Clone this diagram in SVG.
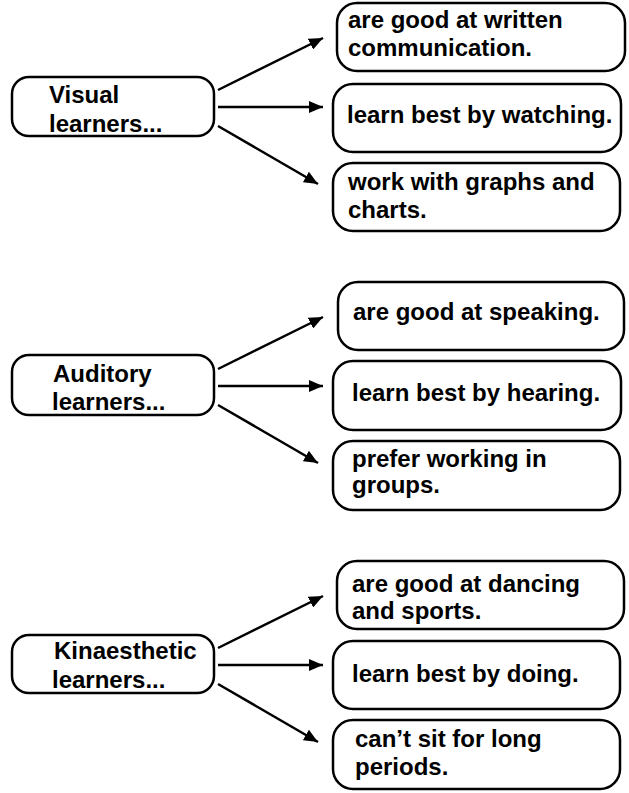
<svg xmlns="http://www.w3.org/2000/svg" width="629" height="793" viewBox="0 0 629 793">
<style>
.box{fill:#fff;stroke:#000;stroke-width:2.5}
.t{font-family:"Liberation Sans",Arial,sans-serif;font-weight:bold;font-size:24px;fill:#000}
.c{stroke:#000;stroke-width:2.5;fill:none;marker-end:url(#ah)}
</style>
<defs>
<marker id="ah" markerUnits="userSpaceOnUse" markerWidth="16" markerHeight="12" refX="14" refY="6" orient="auto">
<path d="M0,0 L14,6 L0,12 Z" fill="#000"/>
</marker>
</defs>
<rect width="629" height="793" fill="#fff"/>
<g id="connectors">
<line class="c" x1="218" y1="90" x2="323" y2="38"/>
<line class="c" x1="218" y1="107" x2="323" y2="107"/>
<line class="c" x1="218" y1="126" x2="318" y2="184"/>
<line class="c" x1="218" y1="369" x2="323" y2="317"/>
<line class="c" x1="218" y1="386" x2="323" y2="386"/>
<line class="c" x1="218" y1="405" x2="318" y2="463"/>
<line class="c" x1="218" y1="648" x2="323" y2="596"/>
<line class="c" x1="218" y1="665" x2="323" y2="665"/>
<line class="c" x1="218" y1="684" x2="318" y2="742"/>
</g>
<g id="visual">
<rect class="box" x="12" y="77" width="202" height="59" rx="17"/>
<text class="t" x="49" y="103">Visual</text>
<text class="t" x="49" y="132">learners...</text>
</g>
<g id="v1">
<rect class="box" x="337" y="3" width="288" height="68" rx="20"/>
<text class="t" x="348" y="28">are good at written</text>
<text class="t" x="348" y="56">communication.</text>
</g>
<g id="v2">
<rect class="box" x="333" y="84" width="288" height="68" rx="20"/>
<text class="t" x="347" y="123">learn best by watching.</text>
</g>
<g id="v3">
<rect class="box" x="333" y="163" width="287" height="68" rx="20"/>
<text class="t" x="348" y="190">work with graphs and</text>
<text class="t" x="348" y="218">charts.</text>
</g>
<g id="auditory">
<rect class="box" x="12" y="355" width="202" height="60" rx="17"/>
<text class="t" x="53" y="382">Auditory</text>
<text class="t" x="52" y="410">learners...</text>
</g>
<g id="a1">
<rect class="box" x="338" y="282" width="286" height="68" rx="20"/>
<text class="t" x="353" y="320">are good at speaking.</text>
</g>
<g id="a2">
<rect class="box" x="333" y="361" width="288" height="69" rx="20"/>
<text class="t" x="352" y="401">learn best by hearing.</text>
</g>
<g id="a3">
<rect class="box" x="333" y="441" width="287" height="69" rx="20"/>
<text class="t" x="352" y="467">prefer working in</text>
<text class="t" x="352" y="493">groups.</text>
</g>
<g id="kinaesthetic">
<rect class="box" x="12" y="635" width="202" height="58" rx="17"/>
<text class="t" x="54" y="659">Kinaesthetic</text>
<text class="t" x="52" y="688">learners...</text>
</g>
<g id="k1">
<rect class="box" x="337" y="561" width="287" height="68" rx="20"/>
<text class="t" x="352" y="592">are good at dancing</text>
<text class="t" x="352" y="619">and sports.</text>
</g>
<g id="k2">
<rect class="box" x="333" y="641" width="287" height="68" rx="20"/>
<text class="t" x="352" y="682">learn best by doing.</text>
</g>
<g id="k3">
<rect class="box" x="333" y="720" width="287" height="69" rx="20"/>
<text class="t" x="355" y="747">can’t sit for long</text>
<text class="t" x="355" y="775">periods.</text>
</g>
</svg>
